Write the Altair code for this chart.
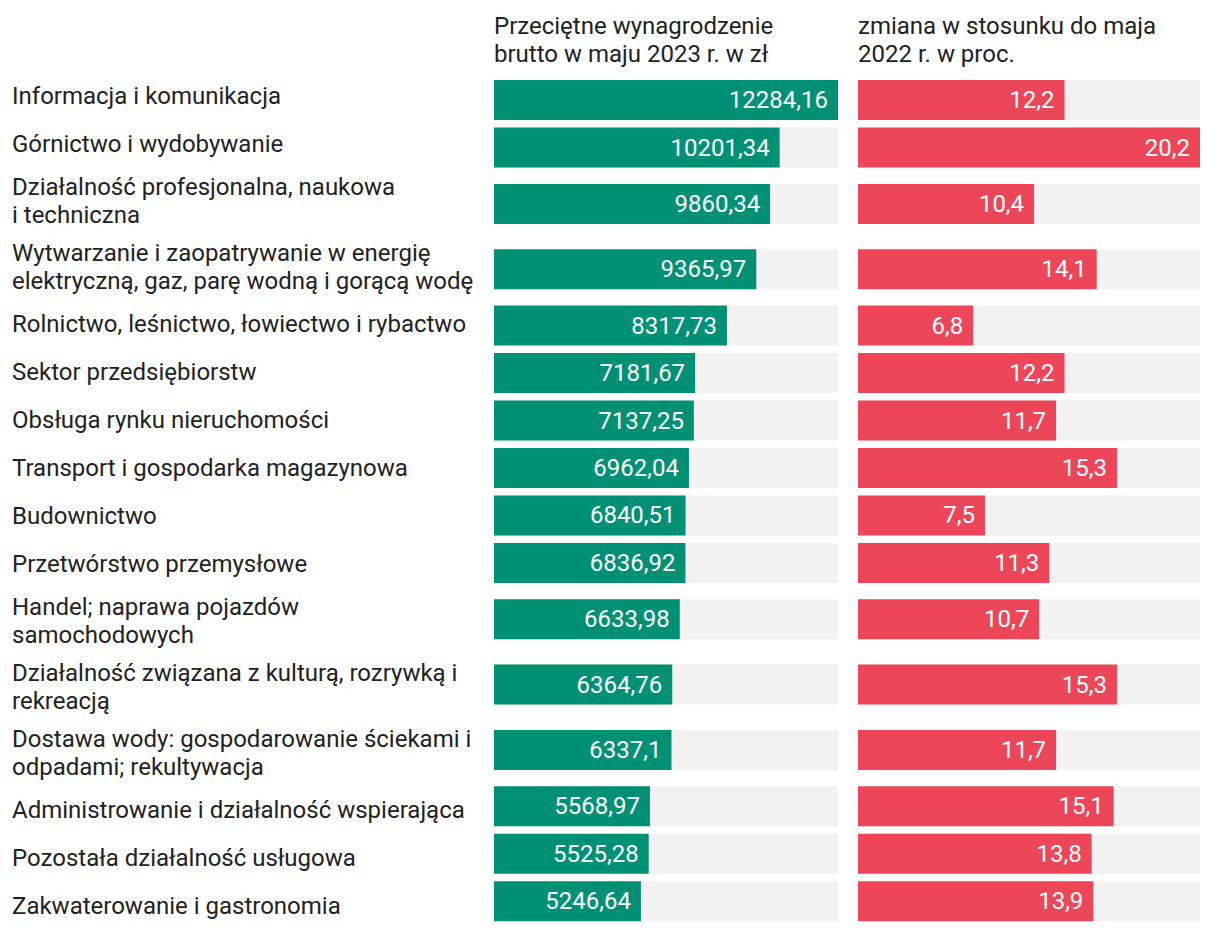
import altair as alt
import pandas as pd

categories = [
    "Informacja i komunikacja",
    "Górnictwo i wydobywanie",
    "Działalność profesjonalna, naukowa\ni techniczna",
    "Wytwarzanie i zaopatrywanie w energię\nelektryczną, gaz, parę wodną i gorącą wodę",
    "Rolnictwo, leśnictwo, łowiectwo i rybactwo",
    "Sektor przedsiębiorstw",
    "Obsługa rynku nieruchomości",
    "Transport i gospodarka magazynowa",
    "Budownictwo",
    "Przetwórstwo przemysłowe",
    "Handel; naprawa pojazdów\nsamochodowych",
    "Działalność związana z kulturą, rozrywką i\nrekreacją",
    "Dostawa wody: gospodarowanie ściekami i\nodpadami; rekultywacja",
    "Administrowanie i działalność wspierająca",
    "Pozostała działalność usługowa",
    "Zakwaterowanie i gastronomia",
]
salaries = [12284.16, 10201.34, 9860.34, 9365.97, 8317.73, 7181.67, 7137.25, 6962.04,
            6840.51, 6836.92, 6633.98, 6364.76, 6337.1, 5568.97, 5525.28, 5246.64]
changes = [12.2, 20.2, 10.4, 14.1, 6.8, 12.2, 11.7, 15.3,
           7.5, 11.3, 10.7, 15.3, 11.7, 15.1, 13.8, 13.9]

header_salary = "Przeciętne wynagrodzenie\nbrutto w maju 2023 r. w zł"
header_change = "zmiana w stosunku do maja\n2022 r. w proc."

HEADER_H = 64
SINGLE_ROW = 48
DOUBLE_ROW = 66
BAR_SIZE = 40
LINE_H = 28
FONT = "Roboto"
FS = 24
TEXT_COLOR = "#222222"
GREEN = "#009175"
RED = "#ee4659"
TRACK = "#f2f2f2"

df = pd.DataFrame({"category": categories, "salary": salaries, "change": changes})
df["salary_label"] = [str(v).replace(".", ",") for v in salaries]
df["change_label"] = [str(v).replace(".", ",") for v in changes]
nlines = [c.count("\n") + 1 for c in categories]
heights = [SINGLE_ROW if n == 1 else DOUBLE_ROW for n in nlines]
df["rowh"] = heights
df["center"] = df["rowh"].cumsum() - df["rowh"] / 2
df["label_y"] = df["center"] - (pd.Series(nlines) - 1) * LINE_H / 2
# plot ends at the bottom edge of the last bar
bottom = float(df["center"].iloc[-1] + BAR_SIZE / 2)

yscale = alt.Scale(domain=[-HEADER_H, bottom], reverse=True, nice=False, zero=False)
yenc = alt.Y("center:Q", scale=yscale, axis=None)
plot_h = bottom + HEADER_H

base = alt.Chart(df)

labels = base.mark_text(
    align="left", baseline="middle", fontSize=FS, font=FONT, color=TEXT_COLOR,
    lineBreak="\n", lineHeight=LINE_H, dy=1
).encode(
    x=alt.value(0), y=alt.Y("label_y:Q", scale=yscale, axis=None), text="category:N"
).properties(width=462, height=plot_h)


def bar_panel(field, label_field, color, header, width):
    xs = alt.Scale(domain=[0, df[field].max()], nice=False, zero=True)
    b = base.transform_joinaggregate(vmax=f"max({field})")
    track = b.mark_bar(orient="horizontal", size=BAR_SIZE, color=TRACK).encode(
        x=alt.X("vmax:Q", scale=xs, axis=None), y=yenc)
    bars = b.mark_bar(orient="horizontal", size=BAR_SIZE, color=color).encode(
        x=alt.X(f"{field}:Q", scale=xs, axis=None), y=yenc)
    txt = b.mark_text(align="right", baseline="middle", dx=-10, dy=1, fontSize=FS,
                      font=FONT, color="white").encode(
        x=alt.X(f"{field}:Q", scale=xs, axis=None), y=yenc, text=f"{label_field}:N")
    head_df = pd.DataFrame({"head": [header], "hy": [-HEADER_H]})
    head = alt.Chart(head_df).mark_text(
        align="left", baseline="top", fontSize=FS, font=FONT, color=TEXT_COLOR,
        lineBreak="\n", lineHeight=LINE_H, dy=2
    ).encode(x=alt.value(0), y=alt.Y("hy:Q", scale=yscale, axis=None), text="head:N")
    return alt.layer(track, bars, txt, head).properties(width=width, height=plot_h)


p1 = bar_panel("salary", "salary_label", GREEN, header_salary, 344)
p2 = bar_panel("change", "change_label", RED, header_change, 342)

chart = alt.hconcat(labels, p1, p2, spacing=20, bounds="flush").properties(
    padding={"left": 4, "top": 0, "right": 4, "bottom": 0}
).configure_view(stroke=None)

chart.save("out.html", embed_options={"renderer": "svg", "actions": False})
